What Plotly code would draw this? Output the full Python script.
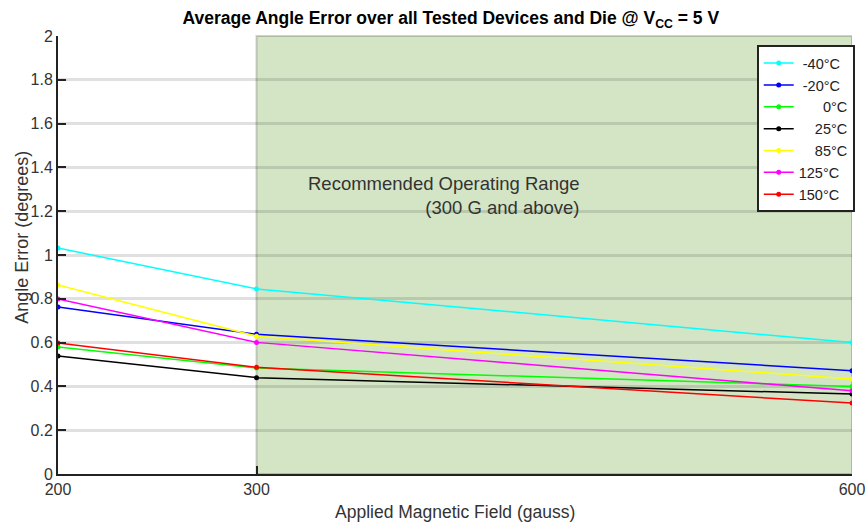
import plotly.graph_objects as go

# Applied field (gauss)
field = [200, 300, 600]

# average angle error (degrees) per temperature
temps = ["-40°C", "-20°C", "0°C", "25°C", "85°C", "125°C", "150°C"]
err_m40 = [1.032, 0.845, 0.600]
err_m20 = [0.763, 0.638, 0.472]
err_0 = [0.580, 0.484, 0.399]
err_25 = [0.539, 0.440, 0.365]
err_85 = [0.863, 0.629, 0.434]
err_125 = [0.799, 0.601, 0.380]
err_150 = [0.598, 0.487, 0.324]

series = [err_m40, err_m20, err_0, err_25, err_85, err_125, err_150]
colors = ["#00ffff", "#0000ff", "#00ff00", "#000000", "#ffff00", "#ff00ff", "#ff0000"]
# pad labels so they look right-aligned like the original legend
labels = ["\u00a0-40°C", "\u00a0-20°C", "\u00a0\u00a0\u00a0\u00a0\u00a0\u00a00°C",
          "\u00a0\u00a0\u00a0\u00a025°C", "\u00a0\u00a0\u00a0\u00a085°C", "125°C", "150°C"]

fig = go.Figure()
for name, ys, c in zip(labels, series, colors):
    fig.add_trace(go.Scatter(
        x=field, y=ys, name=name, mode="lines+markers",
        line=dict(color=c, width=1.5),
        marker=dict(color=c, size=5),
    ))

# recommended operating range
fig.add_shape(type="rect", xref="x", yref="paper", x0=300, x1=600, y0=0, y1=1,
              fillcolor="#d3e5c5", line=dict(color="rgba(0,0,0,0.18)", width=2),
              layer="below")

fig.add_annotation(x=464, y=1.27, xref="x", yref="y", xanchor="right",
                   text="Recommended Operating Range<br>(300 G and above)",
                   align="right", showarrow=False,
                   font=dict(size=18.5, color="#333333"))

# axis titles placed by hand
fig.add_annotation(x=0.5, y=-0.087, xref="paper", yref="paper",
                   text="Applied Magnetic Field (gauss)", showarrow=False,
                   xanchor="center", yanchor="middle",
                   font=dict(size=17.5, color="#333333"))
fig.add_annotation(x=-0.045, y=0.54, xref="paper", yref="paper",
                   text="Angle Error (degrees)", showarrow=False, textangle=-90,
                   xanchor="center", yanchor="middle",
                   font=dict(size=18, color="#333333"))

fig.update_layout(
    width=867, height=523,
    margin=dict(l=58, r=15, t=36, b=49),
    paper_bgcolor="white", plot_bgcolor="white",
    font=dict(family="Arial, Liberation Sans, sans-serif", size=15, color="#333333"),
    title=dict(text="<b>Average Angle Error over all Tested Devices and Die @ V<sub>CC</sub> = 5 V</b>",
               x=0.520, xanchor="center", xref="container", y=0.9656, yanchor="middle",
               font=dict(size=17.5, color="#000000"), automargin=False),
    legend=dict(x=0.880, y=0.979, xanchor="left", yanchor="top",
                bgcolor="white", bordercolor="#222222", borderwidth=2,
                font=dict(size=14.5, color="#222222"), tracegroupgap=0,
                itemwidth=30),
    showlegend=True,
)

fig.update_xaxes(
    range=[200, 600], tickvals=field, ticktext=["200", "300", "600"],
    showgrid=False, zeroline=False, automargin=False,
    showline=True, linecolor="#222222", linewidth=2,
    ticks="inside", ticklen=8, tickwidth=2, tickcolor="#222222",
    tickfont=dict(size=16),
)
fig.update_yaxes(
    range=[0, 2], dtick=0.2, tickformat="~g",
    showgrid=True, gridcolor="rgba(0,0,0,0.12)", gridwidth=3, zeroline=False,
    automargin=False,
    showline=True, linecolor="#222222", linewidth=2,
    ticks="inside", ticklen=8, tickwidth=2, tickcolor="#222222",
    tickfont=dict(size=16),
)

# drop the page's default body margin so the figure fills the window exactly
fig.write_html("out.html", config={"displayModeBar": False},
               post_script="document.body.style.margin='0';document.body.style.overflow='hidden';")
